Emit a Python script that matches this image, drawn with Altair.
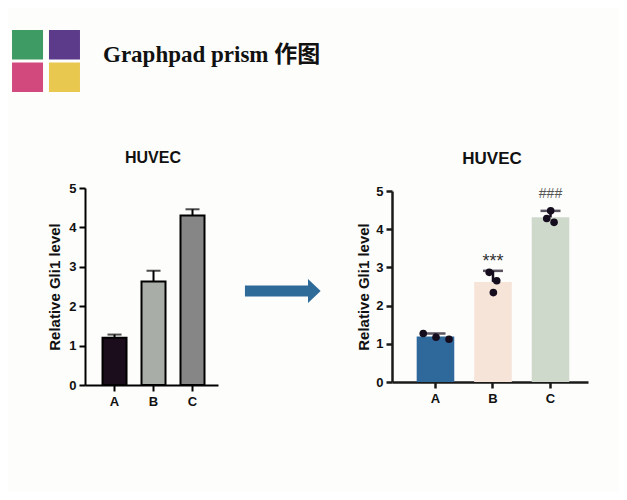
import altair as alt
import pandas as pd

FONT = "Liberation Sans"

# ---------------- data ----------------
square_rows = ["top", "top", "bottom", "bottom"]
square_cols = ["left", "right", "left", "right"]
square_colors = ["#3e9b63", "#5d3b8b", "#d24a7d", "#e9c84f"]
header_title = ["Graphpad prism 作图"]

panel_title = ["HUVEC"]
y_title = "Relative Gli1 level"
groups = ["A", "B", "C"]
y_ticks = [0, 1, 2, 3, 4, 5]

# left: original Prism style
left_mean = [1.20, 2.63, 4.30]
left_upper = [1.28, 2.90, 4.46]
left_colors = ["#1c0d1d", "#a8ada8", "#868686"]

# right: restyled
right_mean = [1.19, 2.62, 4.31]
right_upper = [1.27, 2.91, 4.48]
right_colors = ["#2f689b", "#f6e4d8", "#cfd9cb"]
point_group = ["A", "A", "A", "B", "B", "B", "C", "C", "C"]
point_value = [1.27, 1.17, 1.12, 2.87, 2.65, 2.34, 4.48, 4.28, 4.18]
point_jitter = [-0.65, 0.03, 0.72, -0.20, 0.20, 0.02, 0.01, -0.20, 0.19]
sig_labels = ["", "***", "###"]

# ---------------- header ----------------
sq_df = pd.DataFrame({"row": square_rows, "col": square_cols, "color": square_colors})
squares = alt.Chart(sq_df).mark_rect(width=31, height=29.5).encode(
    x=alt.X("col:N", sort=["left", "right"],
            scale=alt.Scale(range=[4, 72], paddingInner=0.16, paddingOuter=0), axis=None),
    y=alt.Y("row:N", sort=["top", "bottom"],
            scale=alt.Scale(range=[22, 84], paddingInner=0.1, paddingOuter=0), axis=None),
    color=alt.Color("color:N", scale=None),
)

header_text = alt.Chart(pd.DataFrame({"t": header_title})).mark_text(
    font='"Liberation Serif", "Noto Sans CJK SC", serif', fontSize=23, fontWeight="bold",
    align="left", baseline="alphabetic", color="#111111"
).encode(x=alt.value(95), y=alt.value(54), text="t:N")


def title_text(xpos, ypos, size):
    return alt.Chart(pd.DataFrame({"t": panel_title})).mark_text(
        font=FONT, fontSize=size, fontWeight="bold", align="center", baseline="middle",
        color="#111111"
    ).encode(x=alt.value(xpos), y=alt.value(ypos), text="t:N")


def axes(x_range, y_range, x_off, y_off, inner, outer, align, lw, col, tpad):
    xax = alt.Axis(orient="bottom", offset=x_off, labelAngle=0, domainColor=col,
                   domainWidth=lw, tickColor=col, tickWidth=lw, tickSize=6,
                   labelFont=FONT, labelFontSize=13, labelFontWeight="bold",
                   labelColor="#111111", labelPadding=4)
    yax = alt.Axis(orient="left", offset=y_off, values=y_ticks, grid=False,
                   domainColor=col, domainWidth=lw, tickColor=col, tickWidth=lw,
                   tickSize=6, labelFont=FONT, labelFontSize=13, labelFontWeight="bold",
                   labelColor="#111111", labelPadding=3, titleFont=FONT,
                   titleFontSize=15, titleFontWeight="bold", titleColor="#111111",
                   titlePadding=tpad)
    xs = alt.Scale(domain=groups, range=x_range, paddingInner=inner,
                   paddingOuter=outer, align=align)
    ys = alt.Scale(domain=[0, 5], range=y_range, nice=False)

    def X():
        return alt.X("group:N", sort=groups, scale=xs, axis=xax, title=None)

    def Y(field):
        return alt.Y(field + ":Q", scale=ys, axis=yax, title=y_title)
    return X, Y


# ---------------- left panel ----------------
left_df = pd.DataFrame({"group": groups, "mean": left_mean, "upper": left_upper})
LX, LY = axes([77, 210], [377, 180], -107, -77, 0.359, 0.385, 0.567, 2, "#000000", 6)
left_bars = alt.Chart(left_df).mark_bar(stroke="#000000", strokeWidth=2, width=24).encode(
    x=LX(), y=LY("mean"),
    color=alt.Color("group:N", scale=alt.Scale(domain=groups, range=left_colors), legend=None),
)
left_err = alt.Chart(left_df).mark_rule(color="#000000", strokeWidth=2).encode(
    x=LX(), y=LY("mean"), y2="upper:Q")
left_cap = alt.Chart(left_df).mark_tick(color="#000000", thickness=2, size=14).encode(
    x=LX(), y=LY("upper"))
left_panel = alt.layer(left_bars, left_err, left_cap)

# ---------------- right panel ----------------
right_df = pd.DataFrame({"group": groups, "mean": right_mean, "upper": right_upper,
                         "sig": sig_labels})
pts_df = pd.DataFrame({"group": point_group, "value": point_value, "jitter": point_jitter})
RX, RY = axes([384, 580], [374, 183], -110, -384, 0.346, 0.377, 0.569, 2.5, "#1a1a1a", 4)
right_bars = alt.Chart(right_df).mark_bar(width=37.6).encode(
    x=RX(), y=RY("mean"),
    color=alt.Color("group:N", scale=alt.Scale(domain=groups, range=right_colors), legend=None),
)
right_err = alt.Chart(right_df).mark_rule(color="#150c1e", strokeWidth=2.5).encode(
    x=RX(), y=RY("mean"), y2="upper:Q")
right_cap = alt.Chart(right_df).mark_tick(color="#150c1e", thickness=2.5, size=20).encode(
    x=RX(), y=RY("upper"))
right_pts = alt.Chart(pts_df).mark_circle(size=58, opacity=1, color="#150c1e").encode(
    x=RX(), y=RY("value"),
    xOffset=alt.XOffset("jitter:Q", scale=alt.Scale(domain=[-1, 1], range=[0, 37.6])),
)
star_txt = alt.Chart(right_df).transform_filter(alt.datum.sig == "***").mark_text(
    font=FONT, fontSize=18, color="#333333", baseline="middle", dy=-9
).encode(x=RX(), y=RY("upper"), text="sig:N")
hash_txt = alt.Chart(right_df).transform_filter(alt.datum.sig == "###").mark_text(
    font=FONT, fontSize=14, color="#555555", baseline="middle", dy=-17
).encode(x=RX(), y=RY("upper"), text="sig:N")
right_panel = alt.layer(right_bars, right_err, right_cap, right_pts, star_txt, hash_txt)

# ---------------- arrow ----------------
arrow_path = "M-1,-0.145 L0.666,-0.145 L0.666,-0.317 L1,0 L0.666,0.317 L0.666,0.145 L-1,0.145 Z"
arrow = alt.Chart(pd.DataFrame({"a": ["arrow"]})).mark_point(
    shape=arrow_path, filled=True, opacity=1, color="#2f6b99", size=5730, strokeWidth=0
).encode(x=alt.value(274.8), y=alt.value(283))

chart = alt.layer(
    squares, header_text,
    title_text(145, 150, 16), left_panel,
    arrow,
    title_text(484, 150.5, 17), right_panel,
).resolve_scale(x="independent", y="independent", color="independent").properties(
    width=611, height=484, autosize=alt.AutoSizeParams(type="none"), padding=0
).configure(background="#fdfdfc").configure_view(strokeWidth=0)

chart.save("out.html", embed_options={"renderer": "svg", "actions": False})
